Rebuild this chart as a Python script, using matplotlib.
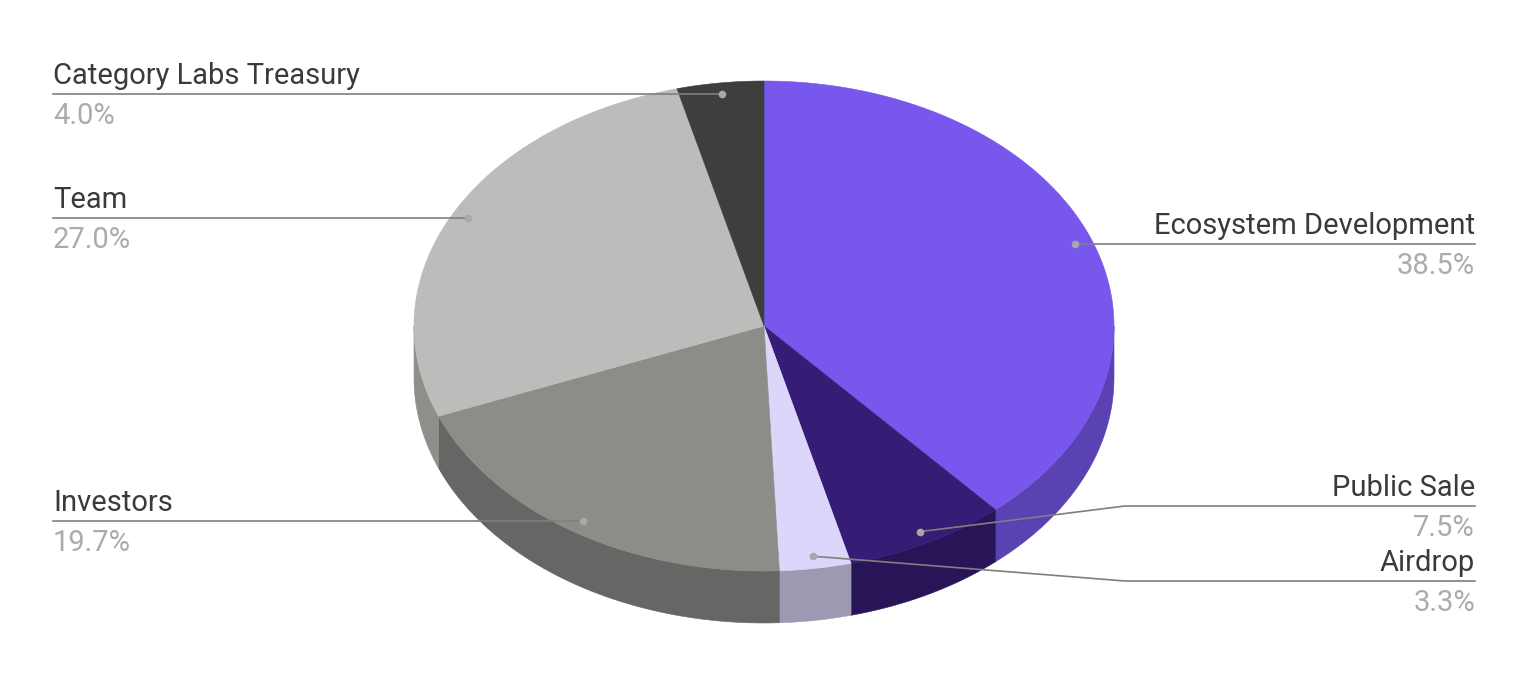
import matplotlib
matplotlib.use('Agg')
import matplotlib.pyplot as plt
import numpy as np

labels = ['Ecosystem Development', 'Public Sale', 'Airdrop', 'Investors', 'Team', 'Category Labs Treasury']
values = [38.5, 7.5, 3.3, 19.7, 27.0, 4.0]

top_colors = ['#7757ec', '#351c75', '#dcd6fb', '#8c8c89', '#bcbcbb', '#3e3e3c']
side_colors = ['#5a42b2', '#281558', '#9d99b2', '#666665', '#8e8e8b', '#2e2e2c']

plt.rcParams['font.family'] = ['Roboto', 'DejaVu Sans']

fig, ax = plt.subplots(figsize=(15.28, 6.9), dpi=100)
fig.subplots_adjust(0, 0, 1, 1)
ax.set_xlim(0, 1528)
ax.set_ylim(690, 0)
ax.axis('off')

# pie geometry, in pixels
cx, cy = 764, 326
rx, ry = 350, 245
depth = 52


def ellipse(a):
    # a is degrees clockwise from the top
    t = np.radians(a)
    return cx + rx * np.sin(t), cy - ry * np.cos(t)


edges = np.concatenate([[0], np.cumsum(values)]) / np.sum(values) * 360

# side wall first, only the front half of the rim shows
for i in range(len(values)):
    a0 = max(edges[i], 90)
    a1 = min(edges[i + 1], 270)
    if a1 <= a0:
        continue
    xs, ys = ellipse(np.linspace(a0, a1, 80))
    px = np.concatenate([xs, xs[::-1]])
    py = np.concatenate([ys, ys[::-1] + depth])
    ax.fill(px, py, color=side_colors[i], lw=0.4, zorder=2)

# top face
for i in range(len(values)):
    xs, ys = ellipse(np.linspace(edges[i], edges[i + 1], 200))
    ax.fill(np.r_[cx, xs], np.r_[cy, ys], color=top_colors[i], lw=0.4, zorder=3)

line_c = '#7f7f7f'
text_c = '#3a3a3a'
val_c = '#ababab'
fs = 21
left = 53
right = 1475

# (side, line y, elbow x)
layout = [('r', None, None), ('r', 506, 1125), ('r', 581, 1125),
          ('l', None, None), ('l', 218, None), ('l', 94, None)]

for i in range(len(values)):
    mid = (edges[i] + edges[i + 1]) / 2
    ax_x, ax_y = ellipse(mid)
    # anchor sits at 95% of the radius
    x0 = cx + (ax_x - cx) * 0.95
    y0 = cy + (ax_y - cy) * 0.95
    side, ly, elbow = layout[i]
    if ly is None:
        ly = y0
    end = right if side == 'r' else left
    if elbow is None:
        y0 = ly
        ax.plot([x0, end], [ly, ly], color=line_c, lw=1.2, zorder=4)
    else:
        ax.plot([x0, elbow, end], [y0, ly, ly], color=line_c, lw=1.2, zorder=4)
    ax.plot([x0], [y0], 'o', ms=5.5, color='#a8a8a8', mew=0, zorder=5)
    ha = 'right' if side == 'r' else 'left'
    ax.text(end, ly - 10, labels[i], ha=ha, va='baseline', fontsize=fs, color=text_c, zorder=6)
    ax.text(end, ly + 30, f'{values[i]:.1f}%', ha=ha, va='baseline', fontsize=fs, color=val_c, zorder=6)

plt.savefig('out.png', dpi=100, facecolor='white')
